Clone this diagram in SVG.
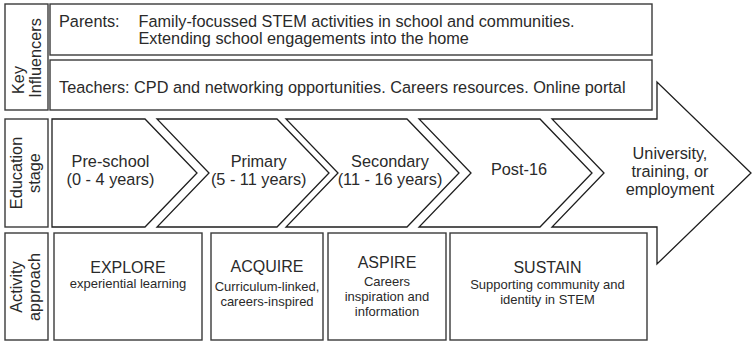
<svg xmlns="http://www.w3.org/2000/svg" width="754" height="344" viewBox="0 0 754 344">
<style>
.box{fill:#fff;stroke:#3a3a3a;stroke-width:1.4}
.shape{fill:#fff;stroke:#1e1e1e;stroke-width:1.3;stroke-linejoin:miter}
text{font-family:"Liberation Sans",Arial,sans-serif;fill:#2a2a2a}
.t{font-size:16.3px}
.c{text-anchor:middle}
.h{font-size:16px;text-anchor:middle}
.s{font-size:13px;text-anchor:middle}
</style>
<rect width="754" height="344" fill="#fff"/>
<g id="label-key-influencers">
<rect class="box" x="5" y="4" width="43" height="106"/>
<text class="t c" transform="translate(23.5,80) rotate(-90)">Key</text>
<text class="t c" transform="translate(40.5,58) rotate(-90)">Influencers</text>
</g>
<g id="parents">
<rect class="box" x="50" y="4" width="602" height="51"/>
<text class="t" x="59" y="26.5">Parents:</text>
<text class="t" x="138.5" y="26.5">Family-focussed STEM activities in school and communities.</text>
<text class="t" x="138.5" y="44.3">Extending school engagements into the home</text>
</g>
<g id="teachers">
<rect class="box" x="50" y="60" width="602" height="50"/>
<text class="t" x="59" y="92.5">Teachers: CPD and networking opportunities. Careers resources. Online portal</text>
</g>
<g id="label-education-stage">
<rect class="box" x="5" y="119" width="43" height="108"/>
<text class="t c" transform="translate(21.5,173) rotate(-90)">Education</text>
<text class="t c" transform="translate(39.5,173) rotate(-90)">stage</text>
</g>
<g id="stage-university">
<path class="shape" d="M552,119 H657 V82 L751,173 L657,264 V227 H552 L604,173 Z"/>
<text class="t c" x="670" y="159">University,</text>
<text class="t c" x="670" y="177">training, or</text>
<text class="t c" x="670" y="195">employment</text>
</g>
<g id="stage-preschool">
<path class="shape" d="M52,119 H145 L197,173 L145,227 H52 Z"/>
<text class="t c" x="110.5" y="166.5">Pre-school</text>
<text class="t c" x="110.5" y="185">(0 - 4 years)</text>
</g>
<g id="stage-primary">
<path class="shape" d="M157,119 H277 L329,173 L277,227 H157 L209,173 Z"/>
<text class="t c" x="258.7" y="166.5">Primary</text>
<text class="t c" x="258.7" y="185">(5 - 11 years)</text>
</g>
<g id="stage-secondary">
<path class="shape" d="M286,119 H407 L459,173 L407,227 H286 L338,173 Z"/>
<text class="t c" x="390" y="166.5">Secondary</text>
<text class="t c" x="390" y="185">(11 - 16 years)</text>
</g>
<g id="stage-post16">
<path class="shape" d="M419,119 H540 L592,173 L540,227 H419 L471,173 Z"/>
<text class="t c" x="519" y="175">Post-16</text>
</g>
<g id="label-activity-approach">
<rect class="box" x="5" y="233" width="43" height="107"/>
<text class="t c" transform="translate(21.5,287) rotate(-90)">Activity</text>
<text class="t c" transform="translate(39.5,287) rotate(-90)">approach</text>
</g>
<g id="explore">
<rect class="box" x="54" y="233" width="148" height="107"/>
<text class="h" x="128" y="272.5">EXPLORE</text>
<text class="s" x="128" y="288">experiential learning</text>
</g>
<g id="acquire">
<rect class="box" x="211" y="233" width="112" height="107"/>
<text class="h" x="267" y="271.7">ACQUIRE</text>
<text class="s" x="267" y="290.5">Curriculum-linked,</text>
<text class="s" x="267" y="306">careers-inspired</text>
</g>
<g id="aspire">
<rect class="box" x="328" y="233" width="118" height="107"/>
<text class="h" x="387" y="268">ASPIRE</text>
<text class="s" x="387" y="286">Careers</text>
<text class="s" x="387" y="301">inspiration and</text>
<text class="s" x="387" y="316">information</text>
</g>
<g id="sustain">
<rect class="box" x="450" y="233" width="197" height="107"/>
<text class="h" x="547.5" y="272.5">SUSTAIN</text>
<text class="s" x="547.5" y="288.5">Supporting community and</text>
<text class="s" x="547.5" y="303.5">identity in STEM</text>
</g>
<g id="connectors"></g>
</svg>
